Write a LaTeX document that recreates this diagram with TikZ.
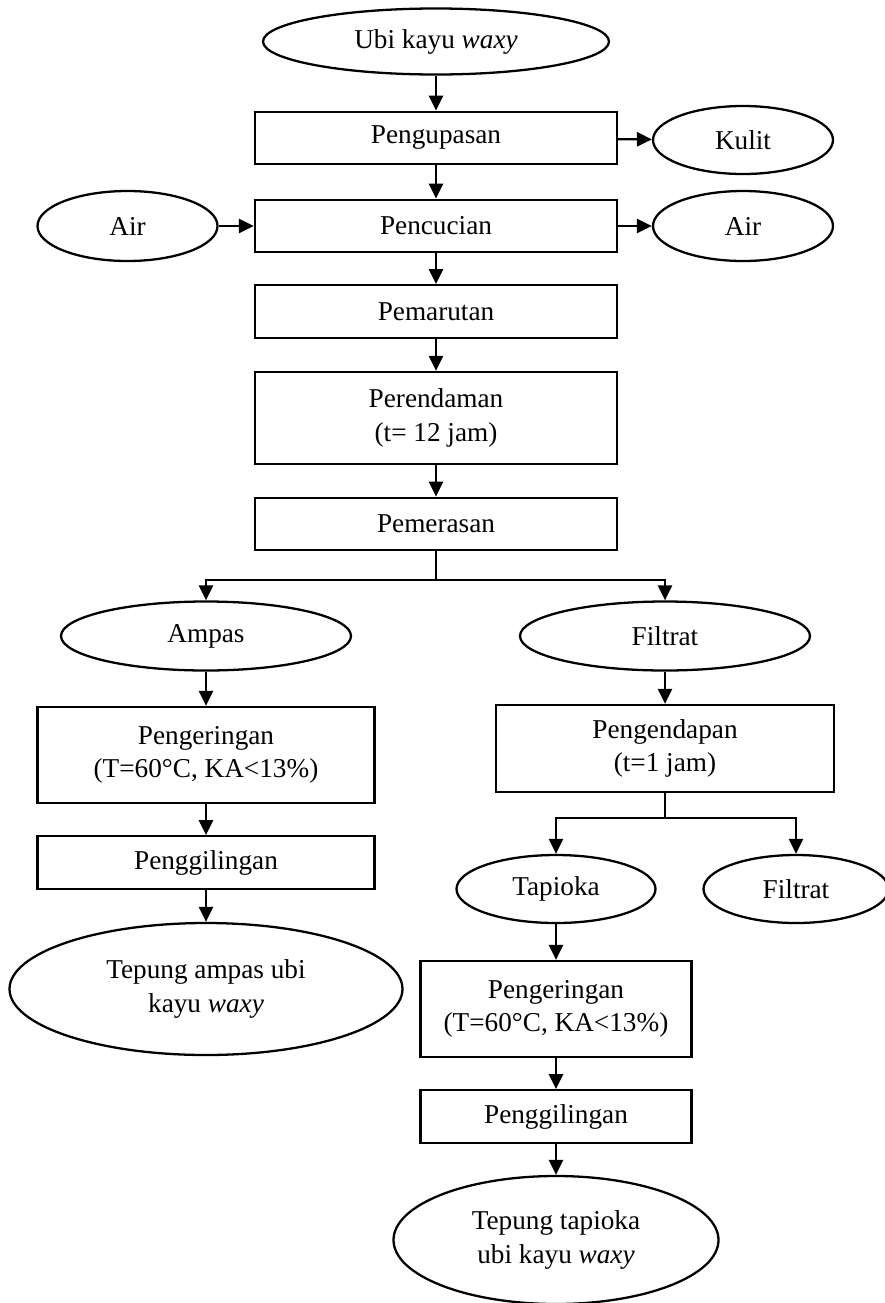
\documentclass[tikz,border=0pt]{standalone}
\usepackage{fontspec}
\setmainfont{Liberation Serif}
\usetikzlibrary{shapes.geometric,arrows.meta}

\begin{document}
\begin{tikzpicture}[
        font=\fontsize{15.5}{19}\selectfont,
        proses/.style={draw,line width=1.3pt,rectangle,align=center,inner sep=0pt,minimum width=7.24cm,minimum height=1.05cm},
        bahan/.style={draw,line width=1.3pt,ellipse,align=center,inner sep=0pt},
        panah/.style={-{Triangle[length=8.5pt,width=8pt]},line width=1.3pt},
        garis/.style={line width=1.3pt}
    ]
        \useasboundingbox (0,0) rectangle (17.7,-26.06);

        % jalur utama
        \node[bahan,minimum width=6.92cm,minimum height=1.32cm] (ubi) at (8.72,-0.83) {Ubi kayu \textit{waxy}};
        \node[proses] (kupas) at (8.72,-2.76) {Pengupasan};
        \node[bahan,minimum width=3.6cm,minimum height=1.36cm] (kulit) at (14.86,-2.80) {Kulit};
        \node[proses] (cuci) at (8.72,-4.52) {Pencucian};
        \node[bahan,minimum width=3.6cm,minimum height=1.4cm] (airmasuk) at (2.55,-4.52) {Air};
        \node[bahan,minimum width=3.6cm,minimum height=1.4cm] (airkeluar) at (14.86,-4.52) {Air};
        \node[proses] (parut) at (8.72,-6.23) {Pemarutan};
        \node[proses,minimum height=1.84cm] (rendam) at (8.72,-8.36) {Perendaman\\(t= 12 jam)};
        \node[proses] (peras) at (8.72,-10.48) {Pemerasan};
        \coordinate (cabang) at (8.72,-11.6);

        % jalur ampas
        \node[bahan,minimum width=5.8cm,minimum height=1.38cm] (ampas) at (4.12,-12.72) {Ampas};
        \node[proses,minimum width=6.74cm,minimum height=1.92cm] (keringampas) at (4.12,-15.10) {Pengeringan\\(T=60°C, KA<13\%)};
        \node[proses,minimum width=6.74cm] (gilingampas) at (4.12,-17.25) {Penggilingan};
        \node[bahan,minimum width=7.86cm,minimum height=2.64cm] (tepungampas) at (4.12,-19.78) {Tepung ampas ubi\\kayu \textit{waxy}};

        % jalur filtrat
        \node[bahan,minimum width=5.8cm,minimum height=1.38cm] (filtrat) at (13.30,-12.72) {Filtrat};
        \node[proses,minimum width=6.76cm,minimum height=1.74cm] (endap) at (13.30,-14.97) {Pengendapan\\(t=1 jam)};
        \coordinate (cabangendap) at (13.30,-16.36);
        \node[bahan,minimum width=3.98cm,minimum height=1.36cm] (tapioka) at (11.12,-17.78) {Tapioka};
        \node[bahan,minimum width=3.7cm,minimum height=1.36cm] (sisa) at (15.92,-17.78) {Filtrat};
        \node[proses,minimum width=5.42cm,minimum height=1.92cm] (keringtapioka) at (11.12,-20.18) {Pengeringan\\(T=60°C, KA<13\%)};
        \node[proses,minimum width=5.42cm] (gilingtapioka) at (11.12,-22.33) {Penggilingan};
        \node[bahan,minimum width=6.5cm,minimum height=2.56cm] (tepungtapioka) at (11.12,-24.80) {Tepung tapioka\\ubi kayu \textit{waxy}};

        \draw[panah](ubi)--(kupas);
        \draw[panah](kupas)--(kulit);
        \draw[panah](kupas)--(cuci);
        \draw[panah](airmasuk)--(cuci);
        \draw[panah](cuci)--(airkeluar);
        \draw[panah](cuci)--(parut);
        \draw[panah](parut)--(rendam);
        \draw[panah](rendam)--(peras);
        \draw[garis](peras)--(cabang);
        \draw[panah](cabang)-|(ampas);
        \draw[panah](cabang)-|(filtrat);

        \draw[panah](ampas)--(keringampas);
        \draw[panah](keringampas)--(gilingampas);
        \draw[panah](gilingampas)--(tepungampas);

        \draw[panah](filtrat)--(endap);
        \draw[garis](endap)--(cabangendap);
        \draw[panah](cabangendap)-|(tapioka);
        \draw[panah](cabangendap)-|(sisa);
        \draw[panah](tapioka)--(keringtapioka);
        \draw[panah](keringtapioka)--(gilingtapioka);
        \draw[panah](gilingtapioka)--(tepungtapioka);
    \end{tikzpicture}
\end{document}
